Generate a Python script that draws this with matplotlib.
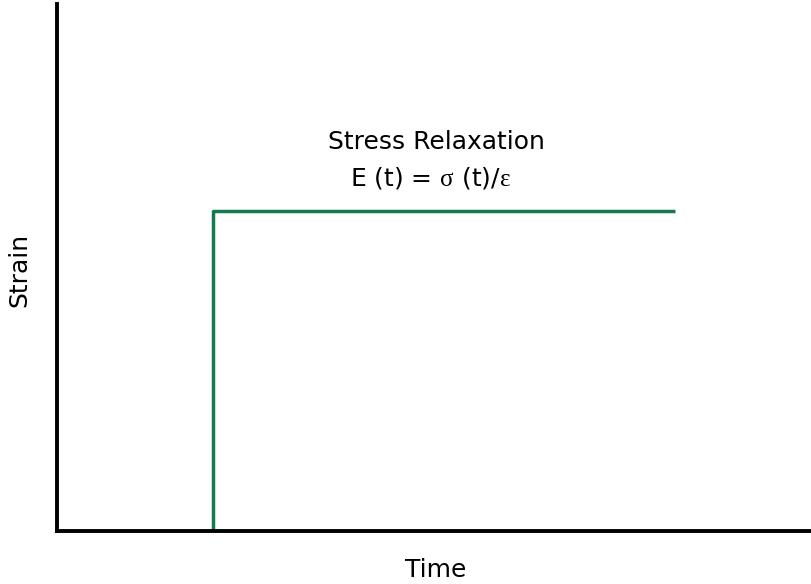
import matplotlib
matplotlib.use("Agg")
import matplotlib.pyplot as plt

# ---------------- DATA ----------------
time = [0.207, 0.207, 0.819]
strain = [0.0, 0.607, 0.607]

title_lines = ["Stress Relaxation", r"E (t) = $\sigma$ (t)/$\varepsilon$"]
x_label = "Time"
y_label = "Strain"

LINE_COLOR = "#137a4e"
FONT = ["DejaVu Sans"]

plt.rcParams["mathtext.fontset"] = "custom"
plt.rcParams["mathtext.it"] = "Liberation Serif"
plt.rcParams["mathtext.rm"] = "Liberation Serif"

# ---------------- PLOT ----------------
fig = plt.figure(figsize=(8.12, 5.84), dpi=100)
ax = fig.add_axes([57 / 812, 53 / 584, 755 / 812, 527 / 584])

ax.plot(time, strain, color=LINE_COLOR, lw=2.5, solid_capstyle="butt")
ax.set_xlim(0, 1)
ax.set_ylim(0, 1)

for s in ["top", "right"]:
    ax.spines[s].set_visible(False)
for s in ["left", "bottom"]:
    ax.spines[s].set_linewidth(2.8)
    ax.spines[s].set_color("black")
ax.set_xticks([])
ax.set_yticks([])

ax.text(0.503, 0.725, title_lines[0], transform=ax.transAxes, ha="center",
        va="baseline", fontsize=18, family=FONT)
ax.text(0.495, 0.6565, title_lines[1], transform=ax.transAxes, ha="center",
        va="baseline", fontsize=18, family=FONT)

fig.text(436 / 812, 1 - 577 / 584, x_label, ha="center", va="baseline",
         fontsize=18, family=FONT)
fig.text(19 / 812, 1 - 270 / 584, y_label, ha="center", va="center",
         rotation=90, fontsize=18, family=FONT)

fig.savefig("out.png", dpi=100)
